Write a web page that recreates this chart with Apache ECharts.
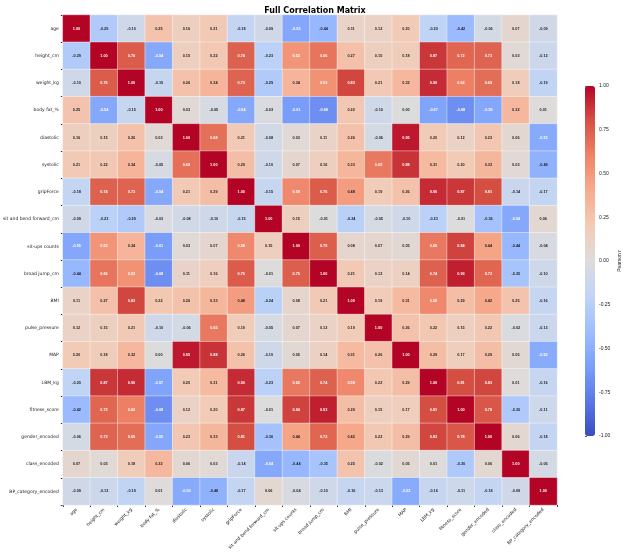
<!DOCTYPE html>
<html><head><meta charset="utf-8">
<script src="https://cdn.jsdelivr.net/npm/echarts@6/dist/echarts.min.js"></script>
<style>html,body{margin:0;padding:0;background:#fff}#c{width:624px;height:555px}</style>
</head><body><div id="c"></div>
<script>
const variables = ["age","height_cm","weight_kg","body fat_%","diastolic","systolic","gripForce","sit and bend forward_cm","sit-ups counts","broad jump_cm","BMI","pulse_pressure","MAP","LBM_kg","fitness_score","gender_encoded","class_encoded","BP_category_encoded"];
const rAge=[1,-0.29,-0.10,0.25,0.16,0.21,-0.18,-0.09,-0.55,-0.44,0.11,0.12,0.20,-0.20,-0.42,-0.06,0.07,-0.09];
const rHeight=[-0.29,1,0.76,-0.54,0.15,0.22,0.74,-0.23,0.52,0.66,0.27,0.15,0.18,0.87,0.72,0.73,0.03,-0.12];
const rWeight=[-0.10,0.76,1,-0.15,0.26,0.34,0.73,-0.29,0.34,0.53,0.83,0.21,0.32,0.90,0.62,0.69,0.18,-0.19];
const rFat=[0.25,-0.54,-0.15,1,0.03,-0.05,-0.54,-0.03,-0.61,-0.68,0.22,-0.10,-0.00,-0.57,-0.68,-0.55,0.32,0.01];
const rDia=[0.16,0.15,0.26,0.03,1,0.68,0.21,-0.08,0.03,0.11,0.26,-0.06,0.95,0.20,0.12,0.23,0.06,-0.53];
const rSys=[0.21,0.22,0.34,-0.05,0.68,1,0.29,-0.10,0.07,0.16,0.33,0.65,0.88,0.31,0.20,0.33,0.03,-0.48];
const rGrip=[-0.18,0.74,0.73,-0.54,0.21,0.29,1,-0.15,0.58,0.76,0.48,0.19,0.26,0.90,0.87,0.81,-0.14,-0.17];
const rSitBend=[-0.09,-0.23,-0.29,-0.03,-0.08,-0.10,-0.15,1,0.15,-0.01,-0.24,-0.05,-0.10,-0.23,-0.01,-0.36,-0.54,0.06];
const rSitUps=[-0.55,0.52,0.34,-0.61,0.03,0.07,0.58,0.15,1,0.75,0.08,0.07,0.05,0.65,0.84,0.44,-0.44,-0.04];
const rJump=[-0.44,0.66,0.53,-0.68,0.11,0.16,0.76,-0.01,0.75,1,0.21,0.12,0.14,0.74,0.93,0.72,-0.35,-0.10];
const rBMI=[0.11,0.27,0.83,0.22,0.26,0.33,0.48,-0.24,0.08,0.21,1,0.19,0.31,0.58,0.29,0.42,0.25,-0.16];
const rPulse=[0.12,0.15,0.21,-0.10,-0.06,0.65,0.19,-0.05,0.07,0.12,0.19,1,0.26,0.22,0.15,0.22,-0.02,-0.13];
const rMAP=[0.20,0.18,0.32,-0.00,0.95,0.88,0.26,-0.10,0.05,0.14,0.31,0.26,1,0.29,0.17,0.29,0.05,-0.52];
const rLBM=[-0.20,0.87,0.90,-0.57,0.20,0.31,0.90,-0.23,0.65,0.74,0.58,0.22,0.29,1,0.81,0.83,0.01,-0.16];
const rFit=[-0.42,0.72,0.62,-0.68,0.12,0.20,0.87,-0.01,0.84,0.93,0.29,0.15,0.17,0.81,1,0.78,-0.30,-0.11];
const rGender=[-0.06,0.73,0.69,-0.55,0.23,0.33,0.81,-0.36,0.44,0.72,0.42,0.22,0.29,0.83,0.78,1,0.06,-0.18];
const rClass=[0.07,0.03,0.18,0.32,0.06,0.03,-0.14,-0.54,-0.44,-0.35,0.25,-0.02,0.05,0.01,-0.30,0.06,1,-0.06];
const rBP=[-0.09,-0.12,-0.19,0.01,-0.53,-0.48,-0.17,0.06,-0.04,-0.10,-0.16,-0.13,-0.52,-0.16,-0.11,-0.18,-0.09,1];
const matrix=[rAge,rHeight,rWeight,rFat,rDia,rSys,rGrip,rSitBend,rSitUps,rJump,rBMI,rPulse,rMAP,rLBM,rFit,rGender,rClass,rBP];

const data=[];
matrix.forEach((row,i)=>row.forEach((v,j)=>{
  data.push({value:[j,i,v],label:{color:Math.abs(v)>=0.5?'#fff':'#222'}});
}));
const coolwarm=['#3b4cc0','#5a78e4','#7b9ff9','#9ebeff','#c0d4f5','#dddcdc','#f2cbb7','#f7ac8e','#ee8468','#d65244','#b40426'];
const chart=echarts.init(document.getElementById('c'));
chart.setOption({
  animation:false,
  title:{text:'Full Correlation Matrix',left:310,textAlign:'center',top:2,textStyle:{fontSize:8,fontWeight:'bold',color:'#000',fontFamily:'DejaVu Sans'}},
  grid:[{left:62,right:67,top:15,bottom:50},{left:585,width:10,top:86,height:350}],
  xAxis:[{type:'category',data:variables,gridIndex:0,axisLine:{show:false},axisTick:{show:true,length:2,lineStyle:{color:'#333'}},
    axisLabel:{rotate:45,fontSize:4.5,color:'#222',margin:4,interval:0,fontFamily:'DejaVu Sans'},splitLine:{show:false}},
    {type:'value',gridIndex:1,show:false}],
  yAxis:[{type:'category',data:variables,inverse:true,gridIndex:0,axisLine:{show:false},axisTick:{show:true,length:2,lineStyle:{color:'#333'}},
    axisLabel:{fontSize:4.5,color:'#222',margin:4,interval:0,fontFamily:'DejaVu Sans'}},
    {type:'value',gridIndex:1,min:-1,max:1,interval:0.25,position:'right',axisLine:{show:false},axisTick:{show:true,length:2},
     splitLine:{show:false},axisLabel:{fontSize:5,color:'#222',formatter:v=>v.toFixed(2),margin:4},
     name:'Pearson r',nameLocation:'middle',nameGap:22,nameRotate:90,nameTextStyle:{fontSize:5,color:'#222'}}],
  visualMap:{type:'continuous',min:-1,max:1,calculable:false,left:585,top:86,itemWidth:10,itemHeight:350,padding:0,
    text:null,showLabel:false,inRange:{color:coolwarm},seriesIndex:0},
  series:[{type:'heatmap',xAxisIndex:0,yAxisIndex:0,data:data,
    itemStyle:{borderColor:'rgba(255,255,255,0.8)',borderWidth:0.5},
    label:{show:true,fontSize:3.8,fontWeight:'bold',formatter:p=>p.value[2].toFixed(2)}}]
});
</script></body></html>
